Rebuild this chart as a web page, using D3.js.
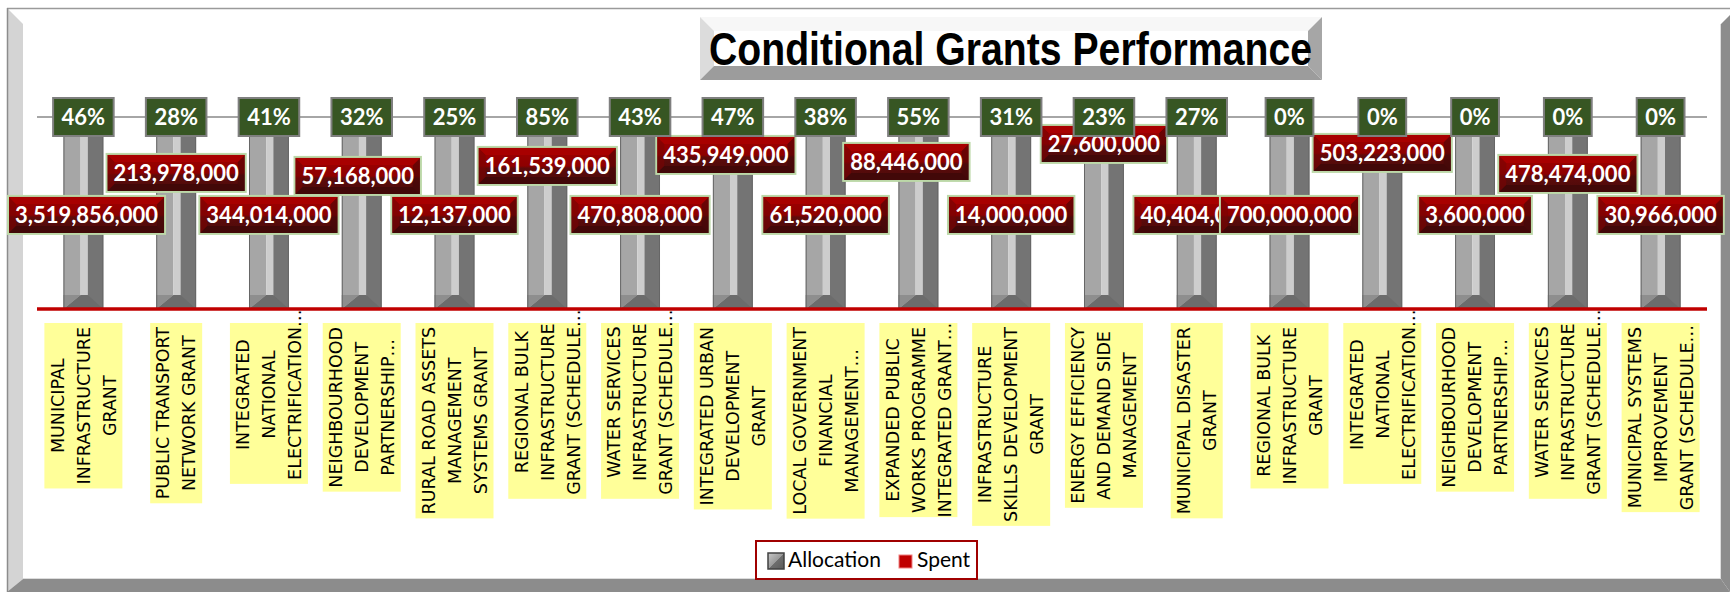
<!DOCTYPE html>
<html><head><meta charset="utf-8">
<script src="https://cdn.jsdelivr.net/npm/d3@7"></script>
<style>html,body{margin:0;padding:0;background:#fff;} svg{display:block}</style>
</head><body>
<svg id="chart" width="1730" height="592"></svg>
<script>
// ---------------- DATA ----------------
const categories = [
  ["MUNICIPAL", "INFRASTRUCTURE", "GRANT"],
  ["PUBLIC TRANSPORT", "NETWORK GRANT"],
  ["INTEGRATED", "NATIONAL", "ELECTRIFICATION…"],
  ["NEIGHBOURHOOD", "DEVELOPMENT", "PARTNERSHIP…"],
  ["RURAL ROAD ASSETS", "MANAGEMENT", "SYSTEMS GRANT"],
  ["REGIONAL BULK", "INFRASTRUCTURE", "GRANT (SCHEDULE…"],
  ["WATER SERVICES", "INFRASTRUCTURE", "GRANT (SCHEDULE…"],
  ["INTEGRATED URBAN", "DEVELOPMENT", "GRANT"],
  ["LOCAL GOVERNMENT", "FINANCIAL", "MANAGEMENT…"],
  ["EXPANDED PUBLIC", "WORKS PROGRAMME", "INTEGRATED GRANT…"],
  ["INFRASTRUCTURE", "SKILLS DEVELOPMENT", "GRANT"],
  ["ENERGY EFFICIENCY", "AND DEMAND SIDE", "MANAGEMENT"],
  ["MUNICIPAL DISASTER", "GRANT"],
  ["REGIONAL BULK", "INFRASTRUCTURE", "GRANT"],
  ["INTEGRATED", "NATIONAL", "ELECTRIFICATION…"],
  ["NEIGHBOURHOOD", "DEVELOPMENT", "PARTNERSHIP…"],
  ["WATER SERVICES", "INFRASTRUCTURE", "GRANT (SCHEDULE…"],
  ["MUNICIPAL SYSTEMS", "IMPROVEMENT", "GRANT (SCHEDULE…"]
];
// Allocation plotted as 100% of itself for every grant
const allocationPct = [100,100,100,100,100,100,100,100,100,100,100,100,100,100,100,100,100,100];
// Spent as share of allocation (green labels)
const spentPct = [46,28,41,32,25,85,43,47,38,55,31,23,27,0,0,0,0,0];
// Spent amounts (red labels)
const spentAmount = [3519856000,213978000,344014000,57168000,12137000,161539000,470808000,435949000,
                     61520000,88446000,14000000,27600000,40404000,700000000,503223000,3600000,478474000,30966000];
const yTicks = [0,100];
const seriesNames = ["Allocation","Spent"];

// ---------------- LAYOUT (not data) ----------------
const labelLift  = [0,42,0,39,0,49,0,60,0,53,0,71,0,0,62,0,41,0];   // px the red label sits above its default row
const labelShift = [3,0,0,-4,0,0,0,-7,0,-12,0,0,0,0,0,0,0,0];     // px horizontal nudge

// ---------------- DRAW ----------------
const svg = d3.select("#chart");
const W = 1730, H = 592;
const plot = {left:37, right:1707, top:117, bottom:309};

const defs = svg.append("defs");
const rg = defs.append("linearGradient").attr("id","redGrad").attr("x1",0).attr("y1",0).attr("x2",0).attr("y2",1);
[[0,"#a00000"],[0.5,"#8e0000"],[0.56,"#5e0b0b"],[1,"#4a0a0a"]].forEach(([o,c])=>rg.append("stop").attr("offset",o).attr("stop-color",c));
const gg = defs.append("linearGradient").attr("id","legGrad").attr("x1",0).attr("y1",0).attr("x2",1).attr("y2",1);
[[0,"#c8c8c8"],[0.5,"#9a9a9a"],[0.52,"#6e6e6e"],[1,"#5a5a5a"]].forEach(([o,c])=>gg.append("stop").attr("offset",o).attr("stop-color",c));

// frame
svg.append("rect").attr("x",0).attr("y",0).attr("width",W).attr("height",H).attr("fill","#fff");
svg.append("polygon").attr("points","7,8 23,24 23,579 7,592").attr("fill","#d4d4d4");
svg.append("polygon").attr("points","1721,24 1730,15 1730,592 1721,579").attr("fill","#8c8c8c");
svg.append("polygon").attr("points","7,592 23,579 1721,579 1730,592").attr("fill","#8c8c8c");
svg.append("line").attr("x1",7).attr("x2",1730).attr("y1",8.5).attr("y2",8.5).attr("stroke","#9a9a9a").attr("stroke-width",1.5);
svg.append("line").attr("x1",7.5).attr("x2",7.5).attr("y1",8).attr("y2",592).attr("stroke","#8c8c8c").attr("stroke-width",1.5);
svg.append("line").attr("x1",23).attr("x2",1721).attr("y1",578.5).attr("y2",578.5).attr("stroke","#dcdcdc");
svg.append("line").attr("x1",1720.5).attr("x2",1720.5).attr("y1",24).attr("y2",579).attr("stroke","#dcdcdc");

// title with bevel
const tb = {x0:700, y0:17, x1:1322, y1:80, b:14};
const tg = svg.append("g");
tg.append("rect").attr("x",tb.x0).attr("y",tb.y0).attr("width",tb.x1-tb.x0).attr("height",tb.y1-tb.y0).attr("fill","#fff");
tg.append("polygon").attr("points",`${tb.x0},${tb.y0} ${tb.x1},${tb.y0} ${tb.x1-tb.b},${tb.y0+tb.b} ${tb.x0+tb.b},${tb.y0+tb.b}`).attr("fill","#f7f7f7");
tg.append("polygon").attr("points",`${tb.x0},${tb.y0} ${tb.x0+tb.b},${tb.y0+tb.b} ${tb.x0+tb.b},${tb.y1-tb.b} ${tb.x0},${tb.y1}`).attr("fill","#dcdcdc");
tg.append("polygon").attr("points",`${tb.x1},${tb.y0} ${tb.x1-tb.b},${tb.y0+tb.b} ${tb.x1-tb.b},${tb.y1-tb.b} ${tb.x1},${tb.y1}`).attr("fill","#a6a6a6");
tg.append("polygon").attr("points",`${tb.x0},${tb.y1} ${tb.x0+tb.b},${tb.y1-tb.b} ${tb.x1-tb.b},${tb.y1-tb.b} ${tb.x1},${tb.y1}`).attr("fill","#9c9c9c");
tg.append("text").attr("x",709).attr("y",65)
  .attr("font-family","'Liberation Sans', Arial, sans-serif").attr("font-weight","bold").attr("font-size",46)
  .attr("textLength",603).attr("lengthAdjust","spacingAndGlyphs").attr("fill","#000")
  .text("Conditional Grants Performance");

// scales
const idx = categories.map((d,i)=>i);
const x = d3.scaleBand().domain(idx).range([plot.left, plot.right]).paddingInner(0.57).paddingOuter(0.285);
const y = d3.scaleLinear().domain([0,100]).range([plot.bottom, plot.top]);
const bw = x.bandwidth();

// gridline(s)
svg.append("g").selectAll("line").data(yTicks.filter(t=>t>0)).join("line")
  .attr("x1",plot.left).attr("x2",plot.right).attr("y1",d=>y(d)).attr("y2",d=>y(d))
  .attr("stroke","#a6a6a6").attr("stroke-width",2);

// allocation bars
const bars = svg.append("g").selectAll("g").data(allocationPct).join("g");
bars.each(function(v,i){
  const g = d3.select(this);
  const x0 = x(i), yt = y(v), yb = y(0), h = yb - yt;
  const s1 = bw*0.43, s2 = bw*0.61, bev = 14;
  g.append("rect").attr("x",x0).attr("y",yt).attr("width",s1).attr("height",h).attr("fill","#a6a6a6");
  g.append("rect").attr("x",x0+s1).attr("y",yt).attr("width",s2-s1).attr("height",h).attr("fill","#cdcdcd");
  g.append("rect").attr("x",x0+s2).attr("y",yt).attr("width",bw-s2).attr("height",h).attr("fill","#747474");
  g.append("polygon").attr("points",`${x0},${yb} ${x0+s1},${yb-bev} ${x0+s2},${yb-bev} ${x0+bw},${yb}`).attr("fill","#6c6c6c");
  g.append("polygon").attr("points",`${x0},${yb} ${x0},${yb-bev} ${x0+s1},${yb-bev}`).attr("fill","#8e8e8e");
  g.append("rect").attr("x",x0+0.5).attr("y",yt).attr("width",bw-1).attr("height",h).attr("fill","none").attr("stroke","#666").attr("stroke-width",1);
});

// baseline (red axis line)
svg.append("line").attr("x1",plot.left).attr("x2",plot.right).attr("y1",y(0)).attr("y2",y(0))
  .attr("stroke","#c00000").attr("stroke-width",3.5);

// category labels
const catTop = 323, lineGap = 26, catFont = 17.5;
const cg = svg.append("g").attr("font-family","'DejaVu Sans', Verdana, sans-serif").attr("font-size",catFont).attr("fill","#000");
const meas = svg.append("text").attr("font-family","'DejaVu Sans', Verdana, sans-serif").attr("font-size",catFont).attr("visibility","hidden");
function tw(s){ meas.text(s); return meas.node().getComputedTextLength(); }
const ellW = tw("…");
categories.forEach((lines,i)=>{
  const xc = x(i) + bw/2;
  const n = lines.length;
  let maxL = 0, longestHasEll = false;
  lines.forEach(l=>{
    const e = l.endsWith("…");
    const w = tw(e ? l.slice(0,-1) : l);
    if (w > maxL){ maxL = w; longestHasEll = e; }
  });
  const bh = maxL + 8;
  const g = cg.append("g");
  g.append("rect").attr("x",xc - n*lineGap/2).attr("y",catTop).attr("width",n*lineGap).attr("height",bh).attr("fill","#ffff99");
  const cy = catTop + bh/2 - (longestHasEll ? ellW/2 : 0);
  const tgp = g.append("g").attr("transform",`translate(${xc},0) rotate(-90)`);
  lines.forEach((l,k)=>{
    tgp.append("text").attr("x",-cy).attr("y",(k-(n-1)/2)*lineGap).attr("dy","0.36em")
      .attr("text-anchor","middle").text(l);
  });
});

// red spent labels
const fmt = d3.format(",");
const lblFont = "Lato, 'Open Sans', sans-serif";
const defaultRow = 49; // axis level of the default label row
const rl = svg.append("g");
spentAmount.forEach((v,i)=>{
  const g = rl.append("g");
  const t = g.append("text").attr("font-family",lblFont).attr("font-weight","bold").attr("font-size",22)
    .attr("fill","#fff").attr("text-anchor","middle").text(fmt(v));
  const w = t.node().getComputedTextLength() + 14, h = 38;
  let cx = x(i) + bw/2 + labelShift[i];
  const cyy = y(defaultRow) - labelLift[i];
  let x0 = cx - w/2; if (x0 < 8) x0 = 8; cx = x0 + w/2;
  const y0 = cyy - h/2, x1 = x0 + w, y1 = y0 + h, b = 8;
  g.insert("rect","text").attr("x",x0).attr("y",y0).attr("width",w).attr("height",h).attr("fill","url(#redGrad)")
    .attr("stroke","#bcd8a8").attr("stroke-width",2);
  g.insert("polygon","text").attr("points",`${x0+1},${y0+1} ${x0+b},${y0+b} ${x0+b},${y1-b} ${x0+1},${y1-1}`).attr("fill","#7a0303").attr("opacity",0.6);
  g.insert("polygon","text").attr("points",`${x1-1},${y0+1} ${x1-b},${y0+b} ${x1-b},${y1-b} ${x1-1},${y1-1}`).attr("fill","#3c0707").attr("opacity",0.5);
  g.insert("polygon","text").attr("points",`${x0+1},${y1-1} ${x0+b},${y1-b} ${x1-b},${y1-b} ${x1-1},${y1-1}`).attr("fill","#420808");
  g.insert("polygon","text").attr("points",`${x0+1},${y0+1} ${x1-1},${y0+1} ${x1-b},${y0+b} ${x0+b},${y0+b}`).attr("fill","#a80000");
  t.attr("x",cx).attr("y",cyy).attr("dy","0.36em");
});

// green percentage labels
const gl = svg.append("g");
spentPct.forEach((p,i)=>{
  const g = gl.append("g");
  const cx = x(i) + bw/2, cyy = y(allocationPct[i]);
  const t = g.append("text").attr("font-family",lblFont).attr("font-weight","bold").attr("font-size",22)
    .attr("fill","#fff").attr("text-anchor","middle").attr("x",cx).attr("y",cyy).attr("dy","0.36em").text(p + "%");
  const w = t.node().getComputedTextLength() + 17, h = 38;
  g.insert("rect","text").attr("x",cx-w/2).attr("y",cyy-h/2).attr("width",w).attr("height",h)
    .attr("fill","#375623").attr("stroke","#7f7f7f").attr("stroke-width",2);
});

// legend
const lg = svg.append("g");
lg.append("rect").attr("x",756).attr("y",541).attr("width",221).attr("height",38).attr("fill","#fff").attr("stroke","#a00000").attr("stroke-width",2);
lg.append("rect").attr("x",768).attr("y",553).attr("width",16).attr("height",16).attr("fill","url(#legGrad)").attr("stroke","#404040").attr("stroke-width",1.5);
lg.append("text").attr("x",788).attr("y",567).attr("font-family",lblFont).attr("font-size",21).attr("fill","#000").text(seriesNames[0]);
lg.append("rect").attr("x",899).attr("y",555).attr("width",13).attr("height",13).attr("fill","#c00000").attr("stroke","#f08080").attr("stroke-width",1);
lg.append("text").attr("x",917).attr("y",567).attr("font-family",lblFont).attr("font-size",21).attr("fill","#000").text(seriesNames[1]);
meas.remove();
</script>
</body></html>
